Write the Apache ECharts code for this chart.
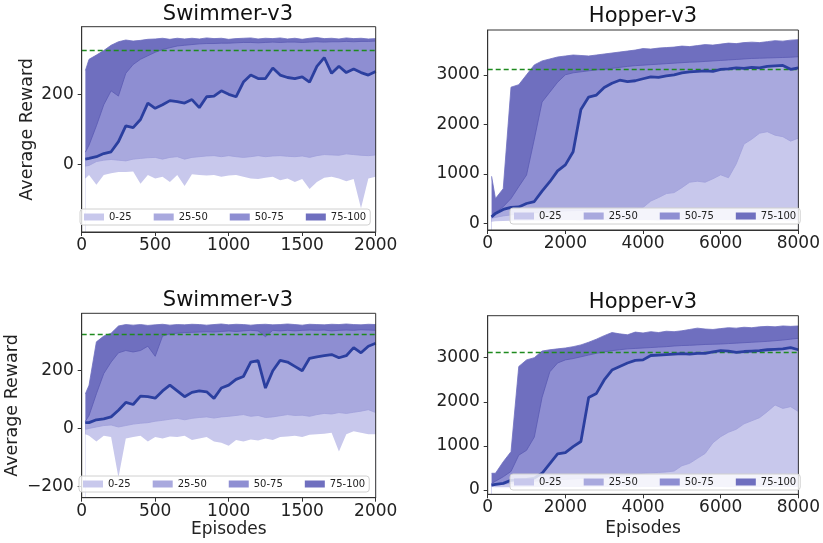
<!DOCTYPE html>
<html>
<head>
<meta charset="utf-8">
<script src="https://cdn.jsdelivr.net/npm/echarts@6/dist/echarts.min.js"></script>
<style>
html, body { margin: 0; padding: 0; background: #fff; }
#main { width: 823px; height: 543px; }
</style>
</head>
<body>
<div id="main"></div>
<script>
// episodes (x values)
let swimmerEpisodes = [25,50,100,150,200,250,300,350,400,450,500,550,600,650,700,750,800,850,900,950,1000,
	1050,1100,1150,1200,1250,1300,1350,1400,1450,1500,1550,1600,1650,1700,1750,1800,1850,1900,1950,2000];
let hopperEpisodes = [100,200,400,600,800,1000,1200,1400,1600,1800,2000,2200,2400,2600,2800,3000,3200,3400,3600,3800,4000,
	4200,4400,4600,4800,5000,5200,5400,5600,5800,6000,6200,6400,6600,6800,7000,7200,7400,7600,7800,8000];

// Swimmer-v3 (top)
let swimTopMin = [-40,-30,-58,-30,-25,-22,-22,-20,-55,-30,-40,-35,-50,-30,-62,-28,-30,-32,-30,-35,-32,-30,-35,-40,-42,-38,-35,-45,-40,-50,-42,-70,-50,-38,-35,-40,-48,-42,-125,-40,-35];
let swimTopQ25 = [-5,-3,8,12,14,12,10,15,17,19,20,15,20,22,15,20,22,24,25,22,25,22,20,22,25,22,24,25,23,22,24,20,25,28,27,26,30,28,26,25,27];
let swimTopMedian = [15,17,22,31,36,65,110,105,128,175,160,170,182,179,175,185,162,193,195,210,200,193,235,255,245,245,275,255,248,245,250,235,280,305,260,280,262,272,262,255,265];
let swimTopQ75 = [35,55,110,170,210,195,260,285,300,310,320,328,333,338,340,342,344,345,345,346,346,347,348,348,347,348,349,348,349,349,348,349,350,349,350,350,351,350,351,351,352];
let swimTopMax = [268,300,312,325,340,350,355,352,354,357,358,360,357,360,358,360,358,361,359,360,357,359,360,361,358,360,359,361,358,360,357,360,362,359,360,358,361,359,360,358,359];

// Hopper-v3 (top)
let hopTopMin = [30,40,45,50,50,50,55,55,55,60,60,60,55,60,60,60,55,60,60,60,60,60,55,60,60,60,60,55,60,60,60,60,60,55,60,60,60,60,60,55,60];
let hopTopQ25 = [100,120,150,170,185,200,210,220,230,240,250,255,260,265,270,275,280,285,290,300,320,450,520,600,620,720,830,850,830,900,980,920,1200,1600,1700,1820,1850,1780,1750,1660,1720];
let hopTopMedian = [130,200,280,320,330,400,440,650,840,1060,1180,1445,2300,2550,2590,2745,2830,2890,2860,2880,2920,2960,2950,2980,3000,3040,3060,3070,3080,3070,3110,3120,3140,3130,3150,3140,3170,3180,3190,3110,3140];
let hopTopQ75 = [135,220,335,500,740,975,1700,2450,2650,2850,3000,3040,3060,3080,3100,3110,3130,3150,3170,3185,3195,3205,3215,3225,3235,3245,3255,3260,3270,3280,3290,3300,3310,3320,3330,3335,3340,3345,3350,3355,3365];
let hopTopMax = [950,500,700,2750,2800,3000,3200,3280,3320,3360,3380,3400,3390,3380,3400,3420,3440,3460,3480,3500,3530,3520,3540,3550,3560,3580,3570,3590,3610,3600,3620,3640,3630,3650,3660,3650,3670,3690,3680,3700,3710];

// Swimmer-v3 (bottom)
let swimBotMin = [-20,-25,-45,-25,-30,-170,-35,-30,-25,-45,-30,-35,-28,-30,-25,-40,-35,-30,-45,-50,-60,-40,-45,-38,-42,-35,-40,-30,-28,-25,-30,-22,-20,-18,-15,-80,-20,-10,-15,-20,-20];
let swimBotQ25 = [-3,0,5,10,12,5,10,15,18,20,25,28,32,35,30,35,38,40,36,40,42,45,48,42,45,38,40,44,48,45,46,42,48,52,50,55,52,56,60,65,55];
let swimBotMedian = [20,20,30,33,40,63,90,83,112,110,105,130,150,130,110,125,130,127,104,140,150,170,180,230,235,140,200,236,230,215,200,243,248,252,256,245,252,280,262,285,295];
let swimBotQ75 = [25,45,120,190,230,262,270,265,270,285,250,320,328,330,332,333,334,335,334,336,338,336,338,340,338,318,340,338,340,338,340,341,340,341,338,340,341,340,342,341,340];
let swimBotMax = [120,150,300,320,330,355,360,358,360,357,359,361,358,360,359,361,360,358,360,362,359,361,360,358,360,361,359,360,362,360,358,361,360,359,361,360,362,360,359,361,360];

// Hopper-v3 (bottom)
let hopBotMin = [70,60,60,65,65,70,70,70,65,70,70,70,70,65,70,70,70,70,70,65,70,70,70,70,70,65,70,70,70,70,70,65,70,70,70,70,65,70,70,70,70];
let hopBotQ25 = [100,110,130,150,170,185,200,210,220,230,240,250,260,270,280,290,300,310,330,360,380,390,400,410,430,550,605,718,830,1070,1210,1310,1376,1500,1570,1640,1776,1928,1850,1890,1780];
let hopBotMedian = [110,130,150,220,230,240,270,380,600,820,847,983,1100,2100,2190,2495,2720,2800,2880,2940,2950,3050,3060,3070,3080,3090,3080,3100,3100,3130,3160,3150,3120,3140,3150,3160,3180,3190,3200,3230,3180];
let hopBotQ75 = [150,200,300,420,790,900,1200,2100,2680,2880,2950,2980,3020,3060,3100,3130,3160,3180,3200,3210,3220,3230,3240,3250,3265,3275,3280,3290,3300,3305,3310,3320,3330,3340,3350,3360,3370,3385,3400,3420,3440];
let hopBotMax = [380,380,640,870,2800,2950,3000,3150,3180,3200,3220,3250,3290,3350,3420,3500,3570,3540,3520,3580,3560,3590,3570,3600,3590,3610,3640,3670,3650,3640,3660,3680,3670,3690,3680,3700,3710,3700,3720,3710,3720];

let bandNames = ['0-25', '25-50', '50-75', '75-100'];
let bandColors = ['#c8c8ec', '#a9a9de', '#8e8ed2', '#6f6fbf'];
let bandEdges = ['#a0a0da', '#a9a9de', '#5a5ab2', '#6f6fbf'];
let medianColor = '#2b3f9f';
let fontName = 'DejaVu Sans';

// 刻度文字：matplotlib 风格，不加千分位，负号用 U+2212
function tickText(value){
	return value < 0 ? '\u2212' + (-value) : String(value);
}

// 每个子图的布局
let panels = [
	{title: 'Swimmer-v3', eps: swimmerEpisodes, q: [swimTopMin, swimTopQ25, swimTopMedian, swimTopQ75, swimTopMax],
		grid: {left: 81.7, top: 26.7, width: 294, height: 205.3}, yMin: -193, yMax: 393, split: 3, xMax: 2000, xStep: 500,
		target: 325, titleX: 228, titleY: 4, legend: {left: 80, top: 209}, yName: 'Average Reward', yGap: 45, xName: ''},
	{title: 'Hopper-v3', eps: hopperEpisodes, q: [hopTopMin, hopTopQ25, hopTopMedian, hopTopQ75, hopTopMax],
		grid: {left: 487.7, top: 30, width: 312.3, height: 200}, yMin: -135, yMax: 3905, split: 4, xMax: 8000, xStep: 2000,
		target: 3115, titleX: 643, titleY: 6.5, legend: {left: 510, top: 208}, yName: '', yGap: 0, xName: ''},
	{title: 'Swimmer-v3', eps: swimmerEpisodes, q: [swimBotMin, swimBotQ25, swimBotMedian, swimBotQ75, swimBotMax],
		grid: {left: 81.7, top: 313.3, width: 294, height: 184.4}, yMin: -240, yMax: 399, split: 3, xMax: 2000, xStep: 500,
		target: 327, titleX: 228, titleY: 290.5, legend: {left: 79, top: 476}, yName: 'Average Reward', yGap: 60, xName: 'Episodes', xGap: 19},
	{title: 'Hopper-v3', eps: hopperEpisodes, q: [hopBotMin, hopBotQ25, hopBotMedian, hopBotQ75, hopBotMax],
		grid: {left: 487.7, top: 315.7, width: 312.3, height: 178.6}, yMin: -97, yMax: 3952, split: 4, xMax: 8000, xStep: 2000,
		target: 3125, titleX: 643, titleY: 292, legend: {left: 510, top: 474}, yName: '', yGap: 0, xName: 'Episodes', xGap: 26}
];

let option = {
	animation: false,
	textStyle: {fontFamily: fontName},
	title: [], grid: [], xAxis: [], yAxis: [], legend: [], series: []
};

// 从上往下叠画：每条分位线向下填充到坐标轴底部，后画的盖住先画的
let layerFill = ['#ffffff', bandColors[0], bandColors[1], bandColors[2], bandColors[3]];
let layerEdge = ['rgba(0,0,0,0)', bandEdges[0], medianColor, bandEdges[2], bandEdges[3]];
let layerName = ['', '0-25', '25-50', '50-75', '75-100'];

panels.forEach((p, idx) => {
	option.title.push({
		text: p.title, left: p.titleX, top: p.titleY, textAlign: 'center', padding: 0,
		textStyle: {fontSize: 21, fontWeight: 'normal', color: '#111', fontFamily: fontName}
	});
	option.grid.push(Object.assign({show: true, z: 10, borderColor: '#333', borderWidth: 1, backgroundColor: 'transparent'}, p.grid));
	option.xAxis.push({
		type: 'value', gridIndex: idx, min: 0, max: p.xMax, interval: p.xStep, z: 10,
		name: p.xName, nameLocation: 'middle', nameGap: p.xGap || 0,
		nameTextStyle: {fontSize: 17, color: '#222', fontFamily: fontName},
		axisLine: {show: true, onZero: false, lineStyle: {color: '#333'}},
		axisTick: {show: true, length: 4, lineStyle: {color: '#333'}},
		axisLabel: {fontSize: 17, color: '#222', margin: 5, formatter: tickText},
		splitLine: {show: false}
	});
	option.yAxis.push({
		type: 'value', gridIndex: idx, min: p.yMin, max: p.yMax, splitNumber: p.split, z: 10,
		name: p.yName, nameLocation: 'middle', nameGap: p.yGap,
		nameTextStyle: {fontSize: 17.5, color: '#222', fontFamily: fontName},
		axisLine: {show: true, onZero: false, lineStyle: {color: '#333'}},
		axisTick: {show: true, length: 4, lineStyle: {color: '#333'}},
		axisLabel: {fontSize: 17, color: '#222', margin: 8, showMinLabel: false, showMaxLabel: false, formatter: tickText},
		splitLine: {show: false}
	});
	option.legend.push({
		left: p.legend.left, top: p.legend.top, orient: 'horizontal', z: 20,
		itemWidth: 20, itemHeight: 7, itemGap: 22, padding: [3, 4],
		backgroundColor: 'rgba(255,255,255,0.8)', borderColor: '#d0d0d0', borderWidth: 1, borderRadius: 3,
		selectedMode: false,
		textStyle: {fontSize: 10, color: '#222', fontFamily: fontName},
		data: bandNames.map((n, i) => ({name: n, icon: 'rect', itemStyle: {color: bandColors[i], borderWidth: 0}}))
	});

	// 最大值层先画，最小值层（白色）最后画
	for (let k = 4; k >= 0; k--) {
		let vals = p.q[k];
		option.series.push({
			name: layerName[k] || ('min' + idx), type: 'line', xAxisIndex: idx, yAxisIndex: idx,
			symbol: 'none', silent: true, z: 2,
			lineStyle: {color: layerEdge[k], width: k === 0 ? 0 : 0.8},
			itemStyle: {color: layerFill[k]},
			areaStyle: {color: layerFill[k], opacity: 1, origin: 'start'},
			data: p.eps.map((e, i) => [e, vals[i]])
		});
	}
	//中位数
	option.series.push({
		name: 'median' + idx, type: 'line', xAxisIndex: idx, yAxisIndex: idx,
		symbol: 'none', silent: true, z: 5,
		lineStyle: {color: medianColor, width: 2.8},
		data: p.eps.map((e, i) => [e, p.q[2][i]]),
		markLine: {
			silent: true, symbol: 'none', label: {show: false},
			lineStyle: {color: '#1f8a1f', type: [5, 3], width: 1.3},
			data: [{yAxis: p.target}]
		}
	});
});

let chart = echarts.init(document.getElementById('main'), null, {renderer: 'canvas'});
chart.setOption(option);
</script>
</body>
</html>
